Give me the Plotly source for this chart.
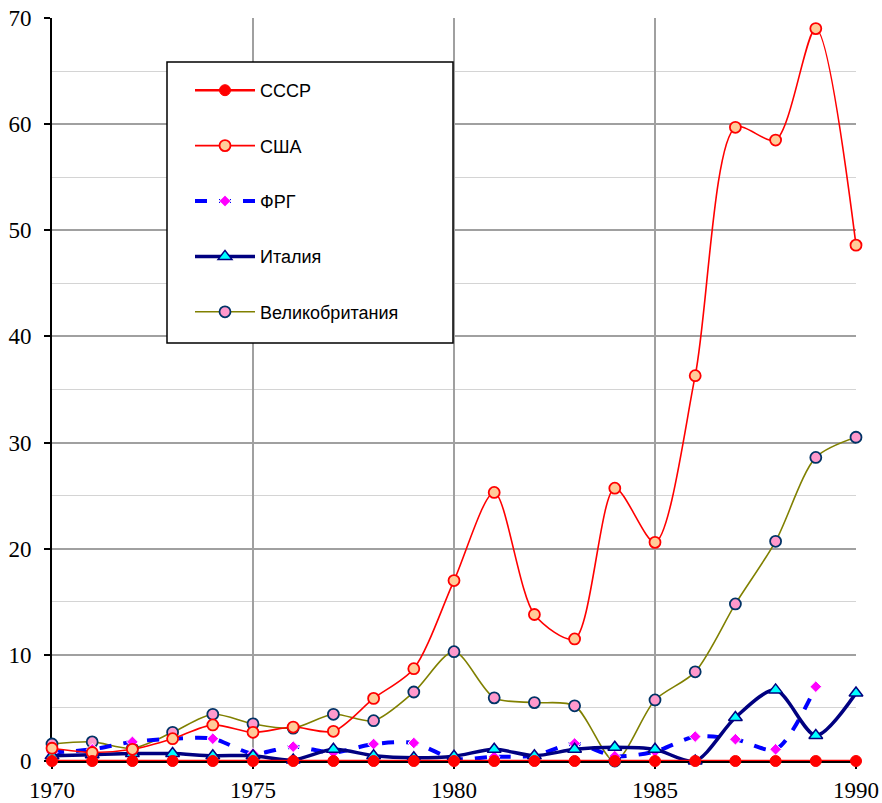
import plotly.graph_objects as go

years = list(range(1970, 1991))
ussr = [0]*21
usa = [1.2, 0.8, 1.1, 2.1, 3.4, 2.7, 3.2, 2.8, 5.9, 8.7, 17.0, 25.3, 13.8, 11.5, 25.7, 20.6, 36.3, 59.7, 58.5, 69.0, 48.6]
frg = [0.8, 1.1, 1.8, 2.1, 2.1, 0.7, 1.35, 0.8, 1.6, 1.7, 0.2, 0.4, 0.5, 1.65, 0.45, 0.9, 2.3, 2.05, 1.1, 7.0, None]
italy = [0.5, 0.6, 0.7, 0.7, 0.5, 0.5, 0.1, 1.1, 0.5, 0.3, 0.45, 1.1, 0.5, 1.1, 1.3, 1.1, 0.0, 4.1, 6.7, 2.4, 6.4]
uk = [1.6, 1.8, 1.2, 2.7, 4.4, 3.5, 3.1, 4.4, 3.8, 6.5, 10.3, 5.95, 5.5, 5.2, 0.0, 5.75, 8.4, 14.8, 20.7, 28.6, 30.5]
names = ["СССР", "США", "ФРГ", "Италия", "Великобритания"]

fig = go.Figure()
sm = 0.8
fig.add_trace(go.Scatter(x=years, y=uk, name=names[4], mode="lines+markers",
    line=dict(color="#808000", width=1.6, shape="spline", smoothing=sm),
    marker=dict(symbol="circle", size=11, color="#FF99CC", line=dict(color="#003366", width=1.8)),
    cliponaxis=False, legendrank=5, legendgroup="e"))
fig.add_trace(go.Scatter(x=years, y=frg, name=names[2], mode="lines+markers",
    line=dict(color="#0000FF", width=4, dash="dash", shape="spline", smoothing=sm),
    marker=dict(symbol="diamond", size=9, color="#FF00FF", line=dict(color="white", width=1)),
    cliponaxis=False, legendrank=3, legendgroup="c"))
fig.add_trace(go.Scatter(x=years, y=italy, name=names[3], mode="lines+markers",
    line=dict(color="#000080", width=3.5, shape="spline", smoothing=sm),
    marker=dict(symbol="triangle-up", size=12, color="#00FFFF", line=dict(color="#000080", width=1.5)),
    cliponaxis=False, legendrank=4, legendgroup="d"))
fig.add_trace(go.Scatter(x=years, y=usa, name=names[1], mode="lines+markers",
    line=dict(color="#FF0000", width=1.6, shape="spline", smoothing=sm),
    marker=dict(symbol="circle", size=11, color="#FFCC99", line=dict(color="#FF0000", width=1.8)),
    cliponaxis=False, legendrank=2, legendgroup="b"))
fig.add_trace(go.Scatter(x=years, y=ussr, name=names[0], mode="lines+markers",
    line=dict(color="#FF0000", width=2.5, shape="spline", smoothing=sm),
    marker=dict(symbol="circle", size=11, color="#FF0000", line=dict(color="#FF0000", width=1)),
    cliponaxis=False, legendrank=1, legendgroup="a"))

fig.add_shape(type="rect", xref="paper", yref="paper",
    x0=(167-52)/804, x1=(453-52)/804, y0=(761-343)/743, y1=(761-62)/743,
    line=dict(color="black", width=1.5), fillcolor="white", layer="above")

serif = dict(family="Times New Roman, Liberation Serif, serif", size=23, color="black")
fig.update_layout(
    width=882, height=803,
    margin=dict(l=52, r=26, t=18, b=42),
    paper_bgcolor="white", plot_bgcolor="white",
    showlegend=True,
    legend=dict(x=(190-52)/804, y=(761-72)/743, xanchor="left", yanchor="top",
                bgcolor="rgba(0,0,0,0)", borderwidth=0,
                font=dict(family="Liberation Sans", size=18, color="black"),
                itemwidth=60, tracegroupgap=29, traceorder="grouped"),
    xaxis=dict(range=[1970, 1990], tickvals=[1970, 1975, 1980, 1985, 1990],
               showgrid=True, gridcolor="#a0a0a0", gridwidth=1.5, zeroline=False,
               showline=True, linecolor="black", linewidth=1.5, layer="below traces",
               ticks="outside", ticklen=6, tickcolor="black", tickwidth=1.5,
               ticklabelstandoff=2, ticklabeloverflow="allow",
               tickfont=serif, automargin=False),
    yaxis=dict(range=[0, 70], tickvals=[0, 10, 20, 30, 40, 50, 60, 70],
               showgrid=True, gridcolor="#a0a0a0", gridwidth=1.5, zeroline=False,
               showline=True, linecolor="black", linewidth=2, layer="below traces",
               ticks="outside", ticklen=6, tickcolor="black", tickwidth=1.5,
               ticklabelstandoff=8, ticklabeloverflow="allow", automargin=False,
               minor=dict(dtick=5, showgrid=True, gridcolor="#d4d4d4", gridwidth=1.2),
               tickfont=serif),
)
fig.write_html("out.html", config={"displayModeBar": False},
               post_script="document.body.style.margin='0';document.body.style.overflow='hidden';")
